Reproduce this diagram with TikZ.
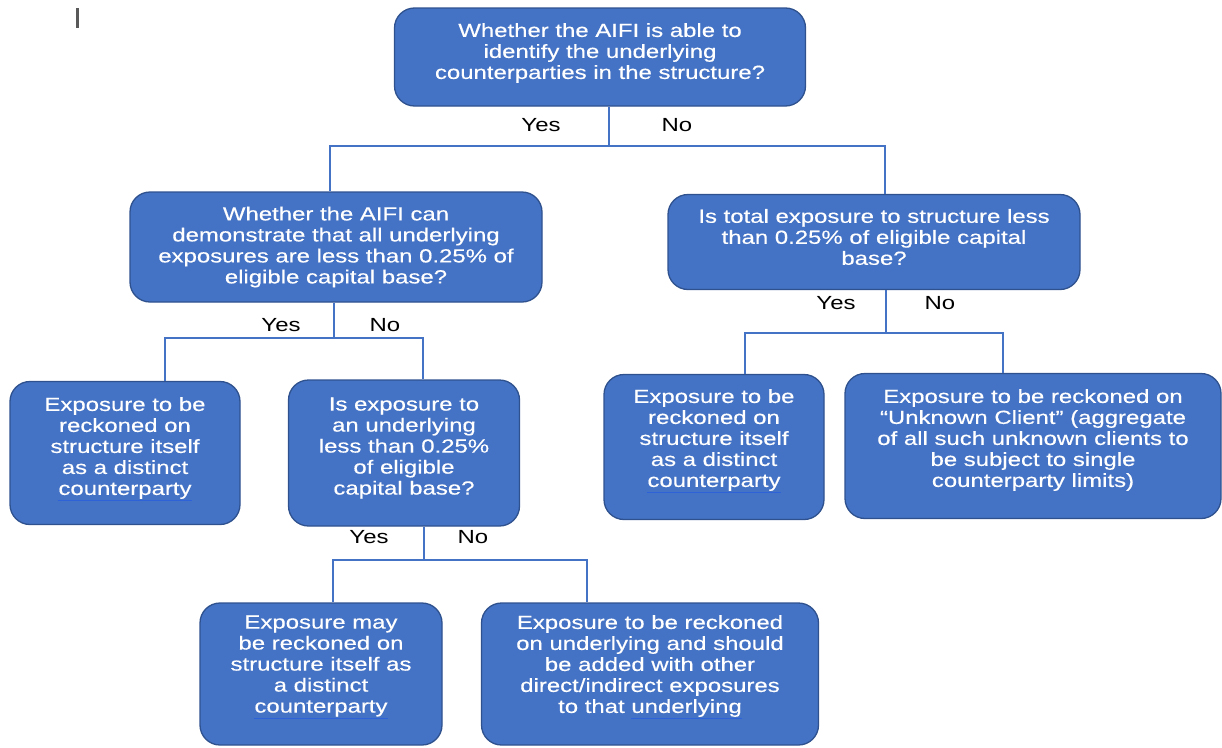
\documentclass[tikz,border=0pt]{standalone}
\usepackage{fontspec}
\setmainfont{Liberation Sans}[FakeStretch=1.26]
\newfontfamily\boxfont{Liberation Sans}[FakeStretch=1.26,FakeBold=0.4]
\definecolor{boxfill}{HTML}{4472C4}
\definecolor{boxline}{HTML}{2F528F}
\definecolor{conn}{HTML}{4472C4}
\definecolor{ulc}{HTML}{2E62D8}
\newcommand{\spellul}[1]{{\color{ulc}\underline{\color{white}#1}}}
\begin{document}
\begin{tikzpicture}[x=1pt,y=-1pt,
  box/.style={draw=boxline, line width=1.3pt, fill=boxfill, rounded corners=20pt, inner sep=0pt},
  boxtext/.style={text=white, align=center, inner sep=0pt,
    font=\boxfont\fontsize{19}{21}\selectfont},
  ans/.style={font=\fontsize{19}{21}\selectfont, text=black, inner sep=0pt},
  link/.style={draw=conn, line width=2.6pt}]
\useasboundingbox (0,0) rectangle (1222,747);
\fill[gray!70!black] (76,8) rectangle (78.5,28);

\node[box, minimum width=411pt, minimum height=98pt] (A) at (600,57) {};
\node[boxtext] (At) at ([yshift=4pt]A.center)
  {Whether the AIFI is able to\\identify the underlying\\counterparties in the structure?};
\node[box, minimum width=412pt, minimum height=110pt] (B) at (336,247) {};
\node[boxtext] (Bt) at (B.center)
  {Whether the AIFI can\\demonstrate that all underlying\\exposures are less than 0.25\% of\\eligible capital base?};
\node[box, minimum width=412pt, minimum height=95pt] (C) at (874,242) {};
\node[boxtext] (Ct) at ([yshift=5pt]C.center)
  {Is total exposure to structure less\\than 0.25\% of eligible capital\\base?};
\node[box, minimum width=230pt, minimum height=143pt] (D) at (125,453) {};
\node[boxtext] (Dt) at ([yshift=4pt]D.center)
  {Exposure to be\\reckoned on\\structure itself\\as a distinct\\\spellul{counterparty}};
\node[box, minimum width=231pt, minimum height=146pt] (E) at (404,453) {};
\node[boxtext] (Et) at ([yshift=5pt]E.center)
  {Is exposure to\\an underlying\\less than 0.25\%\\of eligible\\capital base?};
\node[box, minimum width=242pt, minimum height=142pt] (F) at (321,674) {};
\node[boxtext] (Ft) at ([yshift=7pt]F.center)
  {Exposure may\\be reckoned on\\structure itself as\\a distinct\\\spellul{counterparty}};
\node[box, minimum width=337pt, minimum height=142pt] (G) at (650,674) {};
\node[boxtext] (Gt) at ([yshift=7pt]G.center)
  {Exposure to be reckoned\\on underlying and should\\be added with other\\direct/indirect exposures\\to that \spellul{underlying}};
\node[box, minimum width=220pt, minimum height=145pt] (H) at (714,447) {};
\node[boxtext] (Ht) at ([yshift=6pt]H.center)
  {Exposure to be\\reckoned on\\structure itself\\as a distinct\\\spellul{counterparty}};
\node[box, minimum width=376pt, minimum height=145pt] (I) at (1033,446) {};
\node[boxtext] (It) at ([yshift=6pt]I.center)
  {Exposure to be reckoned on\\“Unknown Client” (aggregate\\of all such unknown clients to\\be subject to single\\counterparty limits)};

% junctions
\coordinate (jA) at (609,146);
\coordinate (jB) at (334,338);
\coordinate (jC) at (886,333);
\coordinate (jE) at (424,560);

\draw[link] (A.south -| jA) -- (jA);
\draw[link] ([xshift=-6pt]B.north) |- (jA) -| ([xshift=11pt]C.north);
\draw[link] (B.south -| jB) -- (jB);
\draw[link] ([xshift=40pt]D.north) |- (jB) -| ([xshift=19pt]E.north);
\draw[link] (C.south -| jC) -- (jC);
\draw[link] ([xshift=31pt]H.north) |- (jC) -| ([xshift=-30pt]I.north);
\draw[link] (E.south -| jE) -- (jE);
\draw[link] ([xshift=12pt]F.north) |- (jE) -| ([xshift=-63pt]G.north);

\node[ans] (yA) at (541,125) {Yes};
\node[ans] (nA) at (677,125) {No};
\node[ans] (yB) at (281,325) {Yes};
\node[ans] (nB) at (385,325) {No};
\node[ans] (yC) at (836,303) {Yes};
\node[ans] (nC) at (940,303) {No};
\node[ans] (yE) at (369,537) {Yes};
\node[ans] (nE) at (473,537) {No};
\end{tikzpicture}
\end{document}
